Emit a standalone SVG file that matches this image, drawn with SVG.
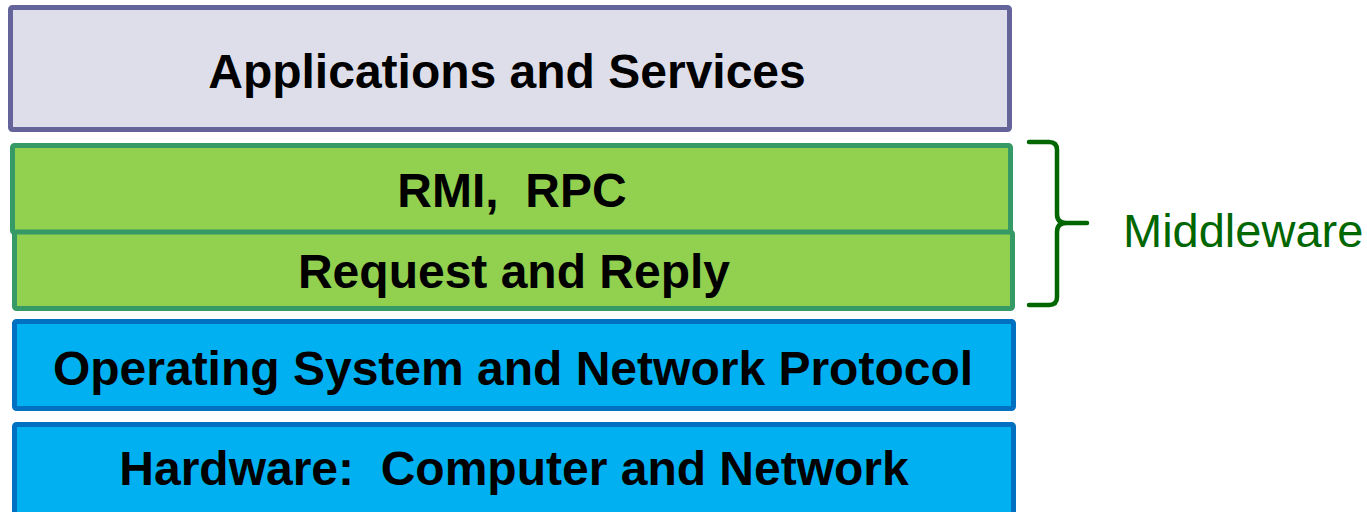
<svg xmlns="http://www.w3.org/2000/svg" width="1367" height="512" viewBox="0 0 1367 512">
  <style>
    .layer { stroke-width: 5; }
    .apps { fill: #dedeea; stroke: #65649a; }
    .mid { fill: #92d050; stroke: #359a65; }
    .sys { fill: #00b0f0; stroke: #0070c0; }
    .label { font-family: "Liberation Sans", Arial, sans-serif; font-weight: bold; font-size: 48px; fill: #000000; text-anchor: middle; white-space: pre; }
    .brace { fill: none; stroke: #006600; stroke-width: 4.5; stroke-linecap: round; stroke-linejoin: round; }
    .note { font-family: "Liberation Sans", Arial, sans-serif; font-size: 47px; fill: #006600; }
  </style>
  <rect width="1367" height="512" fill="#ffffff"/>

  <g id="applications">
    <rect class="layer apps" x="10.5" y="7.5" width="999" height="122" rx="2"/>
    <text class="label" x="507" y="88">Applications and Services</text>
  </g>

  <g id="rmi-rpc">
    <rect class="layer mid" x="12.5" y="145.5" width="998" height="87" rx="2"/>
    <text class="label" x="512" y="207" xml:space="preserve">RMI,  RPC</text>
  </g>

  <g id="request-reply">
    <rect class="layer mid" x="14.5" y="232" width="998" height="76.5" rx="2"/>
    <text class="label" x="514" y="288">Request and Reply</text>
  </g>

  <g id="os-network">
    <rect class="layer sys" x="14.5" y="321.5" width="999" height="87" rx="2"/>
    <text class="label" x="513" y="385">Operating System and Network Protocol</text>
  </g>

  <g id="hardware">
    <rect class="layer sys" x="14.5" y="424.5" width="999" height="100" rx="2"/>
    <text class="label" x="514" y="485" xml:space="preserve">Hardware:  Computer and Network</text>
  </g>

  <g id="connectors">
    <path class="brace" d="M1029,142 H1049 Q1057,142 1057,150 V214 Q1057,223 1066,223 H1087 M1066,223 Q1057,223 1057,232 V297 Q1057,305 1049,305 H1029"/>
  </g>

  <g id="middleware-label">
    <text class="note" x="1123" y="247">Middleware</text>
  </g>
</svg>
